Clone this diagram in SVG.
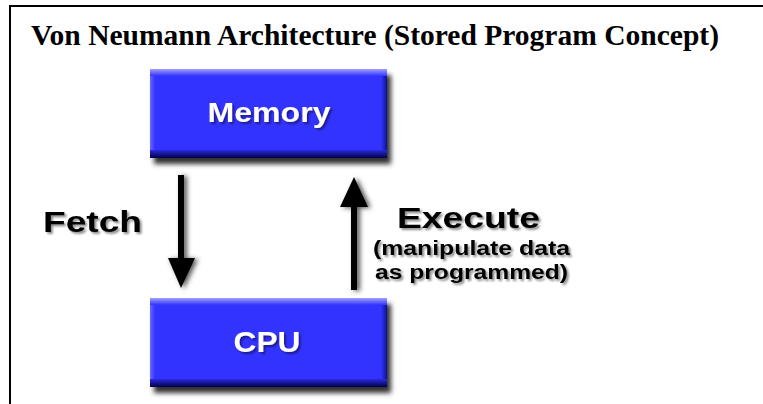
<svg xmlns="http://www.w3.org/2000/svg" width="763" height="404" viewBox="0 0 763 404">
<style>
.title{font-family:"Liberation Serif","Times New Roman",serif;font-weight:bold;font-size:29px;fill:#000}
.lbl{font-family:"Liberation Sans",Arial,sans-serif;font-weight:bold;fill:#000}
.box{font-family:"Liberation Sans",Arial,sans-serif;font-weight:bold;fill:#fff}
</style>
<defs>
<filter id="blur" x="-30%" y="-30%" width="160%" height="160%"><feGaussianBlur stdDeviation="2.5"/></filter>
<filter id="tsh" x="-10%" y="-30%" width="120%" height="160%"><feDropShadow dx="2" dy="2" stdDeviation="1.2" flood-color="#000" flood-opacity="0.45"/></filter>
<linearGradient id="gTop" x1="0" y1="0" x2="0" y2="1"><stop offset="0" stop-color="#a0a0ff"/><stop offset="1" stop-color="#3333ff"/></linearGradient>
<linearGradient id="gBot" x1="0" y1="0" x2="0" y2="1"><stop offset="0" stop-color="#2a2ae0"/><stop offset="1" stop-color="#000045"/></linearGradient>
<linearGradient id="gRight" x1="0" y1="0" x2="1" y2="0"><stop offset="0" stop-color="#3333ff"/><stop offset="1" stop-color="#101090"/></linearGradient>
<linearGradient id="gLeft" x1="0" y1="0" x2="1" y2="0"><stop offset="0" stop-color="#6a6aff"/><stop offset="1" stop-color="#3333ff"/></linearGradient>
<g id="blk">
<rect x="4" y="6" width="237" height="89" fill="#333" filter="url(#blur)"/>
<rect x="0" y="0" width="237" height="89" fill="#3333ff"/>
<rect x="0" y="0" width="5" height="89" fill="url(#gLeft)"/>
<rect x="231" y="0" width="6" height="89" fill="url(#gRight)"/>
<rect x="0" y="0" width="237" height="7" fill="url(#gTop)"/>
<rect x="0" y="81" width="237" height="8" fill="url(#gBot)"/>
</g>
</defs>
<rect x="10" y="6" width="800" height="500" fill="#fff" stroke="#000" stroke-width="2"/>
<text class="title" x="31" y="45" textLength="688" lengthAdjust="spacingAndGlyphs">Von Neumann Architecture (Stored Program Concept)</text>

<g id="memory">
<use href="#blk" x="150" y="69"/>
<text class="box" x="269" y="122" font-size="28" text-anchor="middle" textLength="123" lengthAdjust="spacingAndGlyphs" filter="url(#tsh)">Memory</text>
</g>
<g id="cpu">
<use href="#blk" x="150" y="298"/>
<text class="box" x="267" y="352" font-size="30" text-anchor="middle" textLength="67" lengthAdjust="spacingAndGlyphs" filter="url(#tsh)">CPU</text>
</g>

<g id="connectors">
<g id="fetch-arrow">
<path d="M181,176 V259 H170 L184,289 L198,259 H187 V176 Z" fill="#555" filter="url(#blur)"/>
<path d="M178,175 V258 H168 L181,288 L195,258 H184 V175 Z" fill="#000"/>
</g>
<g id="execute-arrow">
<path d="M354,291 V208 H343 L357,178 L371,208 H360 V291 Z" fill="#555" filter="url(#blur)"/>
<path d="M351,290 V207 H340 L354,177 L368,207 H357 V290 Z" fill="#000"/>
</g>
</g>

<g id="fetch-label" filter="url(#tsh)">
<text class="lbl" x="43" y="232" font-size="30" textLength="99" lengthAdjust="spacingAndGlyphs">Fetch</text>
</g>
<g id="execute-label" filter="url(#tsh)">
<text class="lbl" x="397" y="228" font-size="30" textLength="143" lengthAdjust="spacingAndGlyphs">Execute</text>
<text class="lbl" x="373" y="255" font-size="20" textLength="197" lengthAdjust="spacingAndGlyphs">(manipulate data</text>
<text class="lbl" x="375" y="279" font-size="20" textLength="193" lengthAdjust="spacingAndGlyphs">as programmed)</text>
</g>
</svg>
